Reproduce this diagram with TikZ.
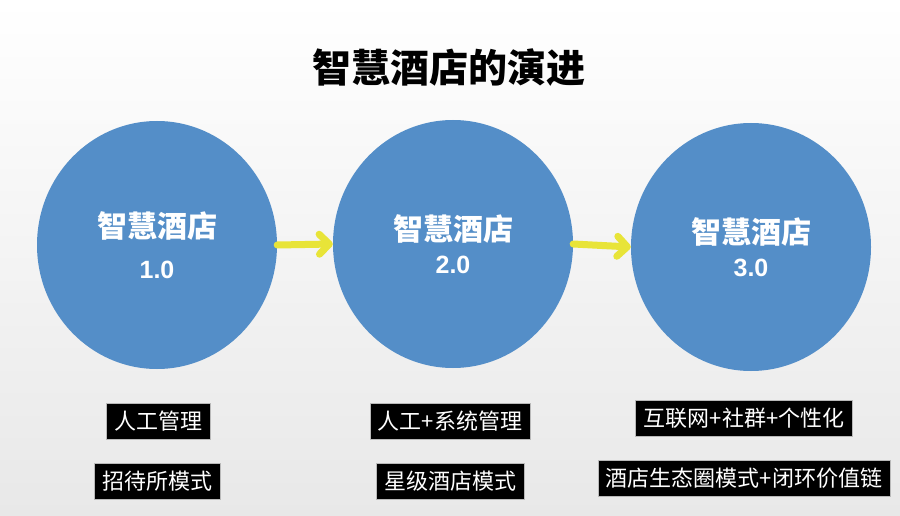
\documentclass[tikz,border=0pt]{standalone}
\usepackage{fontspec}
\setmainfont{Noto Sans CJK SC}
\newfontfamily\digitfont[BoldFont={Liberation Sans Bold}]{Liberation Sans}
\usetikzlibrary{shapes.geometric,arrows.meta,positioning}
\definecolor{CircleBlue}{RGB}{84,142,200}
\definecolor{ArrowYellow}{RGB}{232,228,56}
\definecolor{BgMid}{RGB}{247,247,247}
\definecolor{BgLow}{RGB}{232,232,232}

\tikzset{
  stage/.style={ellipse, fill=CircleBlue, minimum width=240pt, minimum height=248pt,
    inner sep=0pt, text=white, font=\bfseries, align=center},
  tag/.style={fill=black, draw=gray!55, line width=0.6pt, text=white,
    font=\fontsize{22}{26}\selectfont, inner xsep=8pt, inner ysep=0pt, minimum height=36pt},
  nextarrow/.style={draw=ArrowYellow, line width=7pt, line cap=round,
    -{Straight Barb[length=10pt,width=20pt,round]}}
}

\begin{document}
\begin{tikzpicture}[x=1pt,y=-1pt]
  % background
  \shade[top color=white, middle color=BgMid, bottom color=BgLow] (0,0) rectangle (900,516);
  \useasboundingbox (0,0) rectangle (900,516);

  \node[font=\fontsize{39}{44}\selectfont\bfseries] (title) at (449,68) {智慧酒店的演进};

  % the three stages
  \node[stage] (v1) at (157,245) {\fontsize{30}{36}\selectfont 智慧酒店\\[20pt]\digitfont\bfseries\fontsize{25}{28}\selectfont 1.0};
  \node[stage] (v2) at (453,244) {\fontsize{30}{36}\selectfont 智慧酒店\\[12pt]\digitfont\bfseries\fontsize{25}{28}\selectfont 2.0};
  \node[stage] (v3) at (751,247) {\fontsize{30}{36}\selectfont 智慧酒店\\[12pt]\digitfont\bfseries\fontsize{25}{28}\selectfont 3.0};

  \draw[nextarrow] (v1.east) -- (v2.west);
  \draw[nextarrow] (v2.east) -- (v3.west);

  % features under each stage
  \node[tag] (t11) at (158,421) {人工管理};
  \node[tag] (t12) at (157,481) {招待所模式};
  \node[tag] (t21) at (450,421) {人工+系统管理};
  \node[tag] (t22) at (450,481) {星级酒店模式};
  \node[tag] (t31) at (744,418) {互联网+社群+个性化};
  \node[tag] (t32) at (744,478) {酒店生态圈模式+闭环价值链};
\end{tikzpicture}
\end{document}
